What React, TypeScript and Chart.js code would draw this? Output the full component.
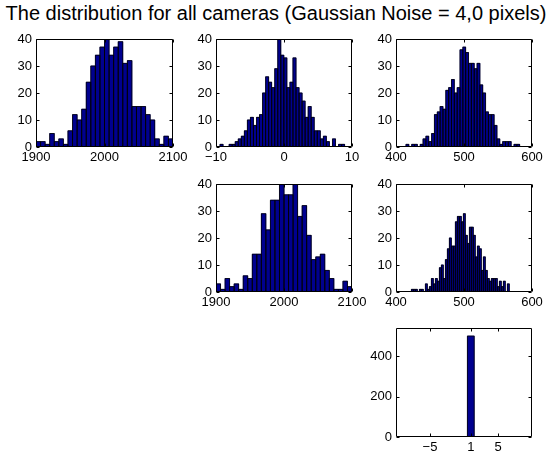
import React, { useEffect, useRef } from "react";
import { Chart, registerables } from "chart.js";

Chart.register(...registerables);

const TITLE = "The distribution for all cameras (Gaussian Noise = 4,0 pixels)";

// Panel 1 (row 1, col 1)
const P1_COUNTS = [2, 2, 1, 5, 2, 3, 1, 6, 12, 10, 14, 24, 30, 34, 37, 40, 34, 37, 39, 31, 32, 15, 15, 15, 12, 10, 3, 1, 4, 3];
const P1_BIN_START = 1900;
const P1_BIN_WIDTH = 6.667;
const P1_X_TICKS = [1900, 2000, 2100];
const P1_Y_TICKS = [0, 10, 20, 30, 40];

// Panel 2 (row 1, col 2)
const P2_COUNTS = [1, 0, 0, 1, 1, 2, 3, 4, 6, 10, 11, 8, 11, 12, 20, 26, 24, 22, 29, 40, 34, 33, 22, 24, 33, 22, 20, 17, 11, 15, 11, 6, 6, 3, 4, 2, 0, 3, 0, 1, 1];
const P2_BIN_START = -9.41;
const P2_BIN_WIDTH = 0.447;
const P2_X_TICKS = [-10, 0, 10];
const P2_Y_TICKS = [0, 10, 20, 30, 40];

// Panel 3 (row 1, col 3)
const P3_COUNTS = [1, 0, 1, 1, 0, 1, 3, 4, 2, 5, 12, 13, 15, 14, 21, 22, 25, 20, 22, 36, 37, 35, 31, 31, 29, 31, 23, 20, 13, 12, 12, 8, 3, 1, 2, 2, 2, 0, 1, 1];
const P3_BIN_START = 414.7;
const P3_BIN_WIDTH = 4.18;
const P3_X_TICKS = [400, 500, 600];
const P3_Y_TICKS = [0, 10, 20, 30, 40];

// Panel 4 (row 2, col 2)
const P4_COUNTS = [3, 1, 5, 2, 3, 1, 6, 5, 14, 14, 29, 23, 34, 34, 40, 36, 36, 40, 28, 32, 21, 12, 13, 14, 8, 5, 1, 1, 4, 2];
const P4_BIN_START = 1900;
const P4_BIN_WIDTH = 6.667;
const P4_X_TICKS = [1900, 2000, 2100];
const P4_Y_TICKS = [0, 10, 20, 30, 40];

// Panel 5 (row 2, col 3)
const P5_COUNTS = [1, 1, 1, 0, 1, 1, 0, 3, 1, 2, 5, 3, 5, 4, 9, 10, 5, 12, 16, 20, 17, 17, 26, 28, 28, 26, 29, 21, 18, 24, 24, 21, 13, 17, 16, 8, 13, 8, 5, 4, 5, 5, 5, 2, 4, 2, 4, 0, 3];
const P5_BIN_START = 422.6;
const P5_BIN_WIDTH = 2.94;
const P5_X_TICKS = [400, 500, 600];
const P5_Y_TICKS = [0, 10, 20, 30, 40];

// Panel 6 (row 3, col 3)
const P6_COUNTS = [0, 0, 0, 0, 0, 500, 0, 0, 0, 0];
const P6_BIN_START = -4.5;
const P6_BIN_WIDTH = 1;
const P6_X_TICKS = [-5, 1, 5];
const P6_Y_TICKS = [0, 200, 400];

type PanelSpec = {
  counts: number[];
  binStart: number;
  binWidth: number;
  xMin: number;
  xMax: number;
  xTicks: number[];
  yMax: number;
  yTicks: number[];
  left: number;
  top: number;
  w: number;
  h: number;
};

const PANELS: PanelSpec[] = [
  { counts: P1_COUNTS, binStart: P1_BIN_START, binWidth: P1_BIN_WIDTH, xMin: 1900, xMax: 2100, xTicks: P1_X_TICKS, yMax: 40, yTicks: P1_Y_TICKS, left: 36, top: 39, w: 137, h: 108 },
  { counts: P2_COUNTS, binStart: P2_BIN_START, binWidth: P2_BIN_WIDTH, xMin: -10, xMax: 10, xTicks: P2_X_TICKS, yMax: 40, yTicks: P2_Y_TICKS, left: 216, top: 39, w: 136, h: 108 },
  { counts: P3_COUNTS, binStart: P3_BIN_START, binWidth: P3_BIN_WIDTH, xMin: 400, xMax: 600, xTicks: P3_X_TICKS, yMax: 40, yTicks: P3_Y_TICKS, left: 396, top: 39, w: 136, h: 108 },
  { counts: P4_COUNTS, binStart: P4_BIN_START, binWidth: P4_BIN_WIDTH, xMin: 1900, xMax: 2100, xTicks: P4_X_TICKS, yMax: 40, yTicks: P4_Y_TICKS, left: 216, top: 184, w: 136, h: 108 },
  { counts: P5_COUNTS, binStart: P5_BIN_START, binWidth: P5_BIN_WIDTH, xMin: 400, xMax: 600, xTicks: P5_X_TICKS, yMax: 40, yTicks: P5_Y_TICKS, left: 396, top: 184, w: 136, h: 108 },
  { counts: P6_COUNTS, binStart: P6_BIN_START, binWidth: P6_BIN_WIDTH, xMin: -10, xMax: 10, xTicks: P6_X_TICKS, yMax: 540, yTicks: P6_Y_TICKS, left: 396, top: 328, w: 136, h: 109 },
];

const FONT_FAMILY = "'Liberation Sans', Arial, Helvetica, sans-serif";
const YW = 44;
const PT = 12;
const PR = 24;
const XH = 24;

const fmt = (v: number) => (v < 0 ? "\u2212" + Math.abs(v) : String(v));

// Black edges around each histogram bar (MATLAB style), from the bar elements' own geometry
const edgePlugin = {
  id: "barEdges",
  afterDatasetsDraw(chart: any) {
    const { ctx, chartArea: a } = chart;
    const meta = chart.getDatasetMeta(0);
    ctx.save();
    ctx.beginPath();
    ctx.rect(a.left, a.top, a.right - a.left, a.bottom - a.top);
    ctx.clip();
    ctx.strokeStyle = "#000";
    ctx.lineWidth = 0.8;
    ctx.beginPath();
    for (const el of meta.data) {
      const { x, y, base, width } = el.getProps(["x", "y", "base", "width"], true);
      if (Math.abs(base - y) < 0.5) continue;
      const l = x - width / 2;
      const r = x + width / 2;
      ctx.moveTo(l, base);
      ctx.lineTo(l, y);
      ctx.lineTo(r, y);
      ctx.lineTo(r, base);
    }
    ctx.stroke();
    ctx.restore();
  },
};

const boxPlugin = {
  id: "matlabBox",
  afterDatasetsDraw(chart: any) {
    const { ctx, chartArea: a, scales } = chart;
    const L = 3;
    ctx.save();
    ctx.strokeStyle = "#000";
    ctx.lineWidth = 1;
    ctx.beginPath();
    const x0 = Math.round(a.left) + 0.5;
    const x1 = Math.round(a.right) - 0.5;
    const y0 = Math.round(a.top) + 0.5;
    const y1 = Math.round(a.bottom) - 0.5;
    ctx.rect(x0, y0, x1 - x0, y1 - y0);
    for (const t of scales.x.ticks) {
      const p = Math.round(scales.x.getPixelForValue(t.value)) + 0.5;
      ctx.moveTo(p, y1);
      ctx.lineTo(p, y1 - L);
      ctx.moveTo(p, y0);
      ctx.lineTo(p, y0 + L);
    }
    for (const t of scales.y.ticks) {
      const p = Math.round(scales.y.getPixelForValue(t.value)) + 0.5;
      ctx.moveTo(x0, p);
      ctx.lineTo(x0 + L, p);
      ctx.moveTo(x1, p);
      ctx.lineTo(x1 - L, p);
    }
    ctx.stroke();
    ctx.restore();
  },
};

function Panel({ spec }: { spec: PanelSpec }) {
  const ref = useRef<HTMLCanvasElement | null>(null);
  const cw = spec.w + YW + PR;
  const ch = spec.h + PT + XH;
  useEffect(() => {
    if (!ref.current) return;
    const font = { family: FONT_FAMILY, size: 13 };
    const chart = new Chart(ref.current, {
      type: "bar",
      data: {
        datasets: [
          {
            data: spec.counts.map((c, i) => ({ x: spec.binStart + (i + 0.5) * spec.binWidth, y: c })),
            backgroundColor: "#00008F",
            borderWidth: 0,
            barPercentage: 1,
            categoryPercentage: 1,
          } as any,
        ],
      },
      options: {
        animation: false,
        responsive: false,
        events: [],
        layout: { padding: { left: 0, top: PT, right: PR, bottom: 0 } },
        plugins: { legend: { display: false }, tooltip: { enabled: false }, title: { display: false } },
        scales: {
          x: {
            type: "linear",
            min: spec.xMin,
            max: spec.xMax,
            offset: false,
            grid: { display: false, drawTicks: false, offset: false },
            border: { display: false },
            afterBuildTicks: (s: any) => {
              s.ticks = spec.xTicks.map((v) => ({ value: v }));
            },
            afterFit: (s: any) => {
              s.height = XH;
            },
            ticks: {
              autoSkip: false,
              maxRotation: 0,
              minRotation: 0,
              padding: 3,
              color: "#000",
              font,
              callback: (v: any) => fmt(Number(v)),
            },
          },
          y: {
            type: "linear",
            min: 0,
            max: spec.yMax,
            grid: { display: false, drawTicks: false },
            border: { display: false },
            afterBuildTicks: (s: any) => {
              s.ticks = spec.yTicks.map((v) => ({ value: v }));
            },
            afterFit: (s: any) => {
              s.width = YW;
            },
            ticks: {
              padding: 4,
              color: "#000",
              font,
              callback: (v: any) => fmt(Number(v)),
            },
          },
        },
      } as any,
      plugins: [edgePlugin, boxPlugin],
    });
    return () => chart.destroy();
  }, [spec]);
  return (
    <canvas
      ref={ref}
      width={cw}
      height={ch}
      style={{ position: "absolute", left: spec.left - YW, top: spec.top - PT, width: cw, height: ch }}
    />
  );
}

export default function App() {
  return (
    <div
      style={{
        position: "fixed",
        left: 0,
        top: 0,
        width: 552,
        height: 456,
        overflow: "hidden",
        background: "#fff",
      }}
    >
      <div
        style={{
          position: "absolute",
          left: 0,
          top: 1,
          width: 552,
          textAlign: "center",
          fontFamily: FONT_FAMILY,
          fontSize: 20,
          lineHeight: "24px",
          color: "#000",
          whiteSpace: "nowrap",
        }}
      >
        {TITLE}
      </div>
      {PANELS.map((p, i) => (
        <Panel key={i} spec={p} />
      ))}
    </div>
  );
}
